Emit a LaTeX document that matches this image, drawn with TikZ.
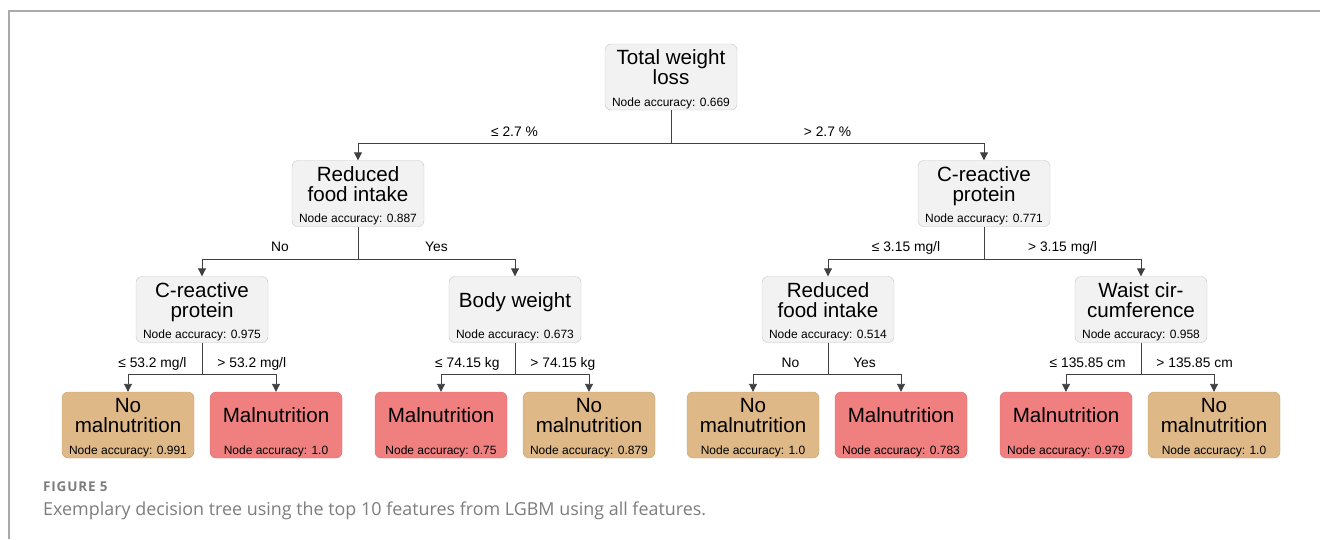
\documentclass[tikz,border=0pt]{standalone}
\usepackage{fontspec}
\setmainfont{Liberation Sans}
\newfontfamily\capfont{Open Sans}
\newfontfamily\capfontsp[LetterSpace=6]{Open Sans}
\usetikzlibrary{arrows.meta}
\definecolor{dtinner}{RGB}{242,242,242}
\definecolor{dtborder}{RGB}{196,196,196}
\definecolor{dtnomal}{RGB}{222,184,135}
\definecolor{dtmal}{RGB}{240,128,128}
\definecolor{dtframe}{RGB}{170,170,170}
\definecolor{dtcap}{RGB}{125,125,125}

\begin{document}
\begin{tikzpicture}[
    x=1pt, y=-1pt,
    box/.style={draw, rounded corners=6pt, minimum width=132pt, minimum height=66pt, inner sep=0pt, align=center, text depth=19pt, font=\fontsize{20.6}{20}\selectfont},
    splitbox/.style={box, draw=dtborder, fill=dtinner},
    nomalbox/.style={box, draw=dtnomal!88!black, fill=dtnomal},
    malbox/.style={box, draw=dtmal!88!black, fill=dtmal},
    acc/.style={anchor=base, inner sep=0pt, yshift=4pt, font=\fontsize{12}{14}\selectfont},
    cond/.style={anchor=base, inner sep=0pt, yshift=7.5pt, font=\fontsize{13.8}{16}\selectfont},
    stem/.style={draw=black!75, line width=0.9pt},
    arrow/.style={stem, -{Triangle[length=8pt, width=8pt]}},
    frame/.style={draw=dtframe, line width=1.5pt}
]
\useasboundingbox (0,0) rectangle (1320,539);
\draw[frame] (9,539) |- (1320,11);

% tree nodes
\node[splitbox] (root) at (671,77) {Total weight\\loss};
\node[acc] (root-acc) at (root.south) {Node accuracy: 0.669};
\node[splitbox] (food) at (358,193.5) {Reduced\\food intake};
\node[acc] (food-acc) at (food.south) {Node accuracy: 0.887};
\node[splitbox] (crp) at (984,193.5) {C-reactive\\protein};
\node[acc] (crp-acc) at (crp.south) {Node accuracy: 0.771};
\node[splitbox] (crpl) at (202,309.5) {C-reactive\\protein};
\node[acc] (crpl-acc) at (crpl.south) {Node accuracy: 0.975};
\node[splitbox] (bw) at (515,309.5) {Body weight};
\node[acc] (bw-acc) at (bw.south) {Node accuracy: 0.673};
\node[splitbox] (foodr) at (828,309.5) {Reduced\\food intake};
\node[acc] (foodr-acc) at (foodr.south) {Node accuracy: 0.514};
\node[splitbox] (waist) at (1141,309.5) {Waist cir-\\cumference};
\node[acc] (waist-acc) at (waist.south) {Node accuracy: 0.958};

% leaves
\node[nomalbox] (leaf1) at (128,425) {No\\malnutrition};
\node[acc] (leaf1-acc) at (leaf1.south) {Node accuracy: 0.991};
\node[malbox] (leaf2) at (276,425) {Malnutrition};
\node[acc] (leaf2-acc) at (leaf2.south) {Node accuracy: 1.0};
\node[malbox] (leaf3) at (441,425) {Malnutrition};
\node[acc] (leaf3-acc) at (leaf3.south) {Node accuracy: 0.75};
\node[nomalbox] (leaf4) at (589,425) {No\\malnutrition};
\node[acc] (leaf4-acc) at (leaf4.south) {Node accuracy: 0.879};
\node[nomalbox] (leaf5) at (753,425) {No\\malnutrition};
\node[acc] (leaf5-acc) at (leaf5.south) {Node accuracy: 1.0};
\node[malbox] (leaf6) at (901,425) {Malnutrition};
\node[acc] (leaf6-acc) at (leaf6.south) {Node accuracy: 0.783};
\node[malbox] (leaf7) at (1066,425) {Malnutrition};
\node[acc] (leaf7-acc) at (leaf7.south) {Node accuracy: 0.979};
\node[nomalbox] (leaf8) at (1214,425) {No\\malnutrition};
\node[acc] (leaf8-acc) at (leaf8.south) {Node accuracy: 1.0};

% splits
\coordinate (j-root) at (root |- 0,143.5);
\draw[stem] (root.south) -- (j-root);
\draw[arrow] (j-root) -| node[cond, pos=0.25] {≤ 2.7 \%} (food.north);
\draw[arrow] (j-root) -| node[cond, pos=0.25] {> 2.7 \%} (crp.north);

\coordinate (j-food) at (food |- 0,259.3);
\draw[stem] (food.south) -- (j-food);
\draw[arrow] (j-food) -| node[cond, pos=0.25] {No} (crpl.north);
\draw[arrow] (j-food) -| node[cond, pos=0.25] {Yes} (bw.north);

\coordinate (j-crp) at (crp |- 0,259.3);
\draw[stem] (crp.south) -- (j-crp);
\draw[arrow] (j-crp) -| node[cond, pos=0.25] {≤ 3.15 mg/l} (foodr.north);
\draw[arrow] (j-crp) -| node[cond, pos=0.25] {> 3.15 mg/l} (waist.north);

\coordinate (j-crpl) at (crpl |- 0,374.5);
\draw[stem] (crpl.south) -- (j-crpl);
\draw[arrow] (j-crpl) -| node[cond, at start, anchor=base east, xshift=-15pt] {≤ 53.2 mg/l} (leaf1.north);
\draw[arrow] (j-crpl) -| node[cond, at start, anchor=base west, xshift=15pt] {> 53.2 mg/l} (leaf2.north);

\coordinate (j-bw) at (bw |- 0,374.5);
\draw[stem] (bw.south) -- (j-bw);
\draw[arrow] (j-bw) -| node[cond, at start, anchor=base east, xshift=-15pt] {≤ 74.15 kg} (leaf3.north);
\draw[arrow] (j-bw) -| node[cond, at start, anchor=base west, xshift=15pt] {> 74.15 kg} (leaf4.north);

\coordinate (j-foodr) at (foodr |- 0,374.5);
\draw[stem] (foodr.south) -- (j-foodr);
\draw[arrow] (j-foodr) -| node[cond, pos=0.25] {No} (leaf5.north);
\draw[arrow] (j-foodr) -| node[cond, pos=0.25] {Yes} (leaf6.north);

\coordinate (j-waist) at (waist |- 0,374.5);
\draw[stem] (waist.south) -- (j-waist);
\draw[arrow] (j-waist) -| node[cond, at start, anchor=base east, xshift=-15pt] {≤ 135.85 cm} (leaf7.north);
\draw[arrow] (j-waist) -| node[cond, at start, anchor=base west, xshift=15pt] {> 135.85 cm} (leaf8.north);

% caption
\node[anchor=base west, inner sep=0pt, text=dtcap, font=\capfontsp\bfseries\fontsize{13.5}{15}\selectfont] (fig-no) at (43,491) {FIGURE 5};
\node[anchor=base west, inner sep=0pt, text=dtcap, font=\capfont\fontsize{17.9}{20}\selectfont] (fig-cap) at (43,515) {Exemplary decision tree using the top 10 features from LGBM using all features.};
\end{tikzpicture}
\end{document}
